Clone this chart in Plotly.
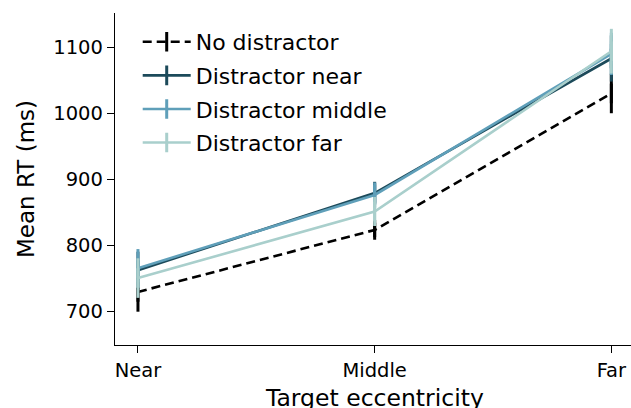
import plotly.graph_objects as go

categories = ["Near", "Middle", "Far"]
series_names = ["No distractor", "Distractor near", "Distractor middle", "Distractor far"]
no_distractor = [729, 823, 1030]
no_distractor_err = [30, 11, 30]
distractor_near = [762, 879, 1083]
distractor_near_err = [28, 17, 35]
distractor_middle = [765, 876, 1090]
distractor_middle_err = [29, 19, 32]
distractor_far = [750, 851, 1094]
distractor_far_err = [30, 22, 34]
y_ticks = [700, 800, 900, 1000, 1100]

values = [no_distractor, distractor_near, distractor_middle, distractor_far]
errors = [no_distractor_err, distractor_near_err, distractor_middle_err, distractor_far_err]
colors = ["#000000", "#1c4a5a", "#5f9fb9", "#a9cfcc"]
dashes = ["9px,5px", "solid", "solid", "solid"]

FONT = "DejaVu Sans"
fig = go.Figure()
for i, (name, v, e) in enumerate(zip(series_names, values, errors)):
    fig.add_trace(go.Scatter(
        x=categories, y=v, name=name, mode="lines+markers",
        line=dict(color=colors[i], width=2.6, dash=dashes[i]),
        marker=dict(symbol="line-ns-open", size=14, color=colors[i],
                    line=dict(color=colors[i], width=3)),
        error_y=dict(type="data", array=e, visible=True, color=colors[i],
                     thickness=3, width=0),
        legendgroup=name,
    ))

fig.update_layout(
    width=631, height=408,
    margin=dict(l=115, r=0, t=13, b=63, pad=0),
    plot_bgcolor="white", paper_bgcolor="white",
    font=dict(family=FONT, color="black", size=20),
    showlegend=True,
    legend=dict(x=0.044, y=0.976, xanchor="left", yanchor="top",
                font=dict(family=FONT, size=22, color="black"),
                bgcolor="rgba(0,0,0,0)", tracegroupgap=2,
                itemwidth=48),
    xaxis=dict(range=[-0.097, 2.083], showline=True, linecolor="black",
               linewidth=1.3, ticks="outside", ticklen=7, tickwidth=1.3,
               tickcolor="black", showgrid=False, zeroline=False,
               tickfont=dict(family=FONT, size=19.5, color="black")),
    yaxis=dict(range=[648.5, 1152], tickvals=y_ticks, showline=True,
               linecolor="black", linewidth=1.3, ticks="outside", ticklen=7,
               tickwidth=1.3, tickcolor="black", showgrid=False, zeroline=False,
               tickfont=dict(family=FONT, size=19.5, color="black"),
               title=dict(text="Mean RT (ms)", standoff=12,
                          font=dict(family=FONT, size=23, color="black"))),
    annotations=[dict(text="Target eccentricity", xref="paper", yref="paper",
                      x=0.502, y=-0.110, xanchor="center", yanchor="top",
                      showarrow=False,
                      font=dict(family=FONT, size=23.5, color="black"))],
)

fig.write_html("out.html")
